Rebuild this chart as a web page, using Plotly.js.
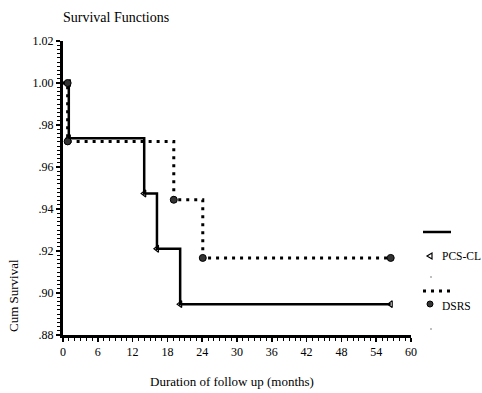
<!DOCTYPE html>
<html>
<head>
<meta charset="utf-8">
<script src="https://cdn.plot.ly/plotly-3.0.1.min.js"></script>
<style>html,body{margin:0;padding:0;background:#fff;} #chart{width:482px;height:393px;}</style>
</head>
<body>
<div id="chart"></div>
<script>
// Step-function data (Kaplan-Meier)
var pcsTime = [0, 1, 14, 16.2, 20.2, 56.5];
var pcsSurv = [1.0, 0.9737, 0.9474, 0.9211, 0.8947, 0.8947];
var pcsCensTime = [1, 1, 14, 16.2, 20.2, 56.5];
var pcsCensSurv = [1.0, 0.9737, 0.9474, 0.9211, 0.8947, 0.8947];

var dsrsTime = [0, 0.8, 19.1, 24.1, 56.5];
var dsrsSurv = [1.0, 0.9722, 0.9444, 0.9167, 0.9167];
var dsrsCensTime = [0.8, 0.8, 19.1, 24.1, 56.5];
var dsrsCensSurv = [1.0, 0.9722, 0.9444, 0.9167, 0.9167];

var xTicks = [0, 6, 12, 18, 24, 30, 36, 42, 48, 54, 60];
var yTicks = [0.88, 0.90, 0.92, 0.94, 0.96, 0.98, 1.00, 1.02];
var yTickText = ['.88', '.90', '.92', '.94', '.96', '.98', '1.00', '1.02'];
var seriesNames = ['PCS-CL', 'DSRS'];

var W = 482, H = 393, L = 63, R = 71, T = 41, B = 58;
function px(x) { return (x - L) / (W - L - R); }
function py(y) { return (H - B - y) / (H - T - B); }

var FONT = '"Liberation Serif", "DejaVu Serif", serif';

var traces = [
  {x: pcsTime, y: pcsSurv, mode: 'lines', line: {shape: 'hv', color: '#000', width: 2.5}, showlegend: false, hoverinfo: 'skip'},
  {x: dsrsTime, y: dsrsSurv, mode: 'lines', line: {shape: 'hv', color: '#000', width: 3, dash: '3px,5px'}, showlegend: false, hoverinfo: 'skip'},
  {x: pcsCensTime, y: pcsCensSurv, mode: 'markers', marker: {symbol: 'triangle-left-open', size: 6, color: '#000', line: {width: 1.2, color: '#000'}}, showlegend: false, cliponaxis: false},
  {x: dsrsCensTime, y: dsrsCensSurv, mode: 'markers', marker: {symbol: 'circle', size: 7, color: '#333', line: {width: 1, color: '#000'}}, showlegend: false, cliponaxis: false}
];

var shapes = [
  {type: 'line', xref: 'paper', yref: 'paper', x0: px(423), x1: px(451), y0: py(232), y1: py(232), line: {color: '#000', width: 2.5}},
  {type: 'path', xref: 'paper', yref: 'paper',
    path: 'M ' + px(427) + ' ' + py(256) + ' L ' + px(432) + ' ' + py(253) + ' L ' + px(432) + ' ' + py(259) + ' Z',
    line: {color: '#000', width: 1.2}, fillcolor: 'rgba(0,0,0,0)'},
  {type: 'line', xref: 'paper', yref: 'paper', x0: px(423), x1: px(451), y0: py(291), y1: py(291), line: {color: '#000', width: 3, dash: '3px,5px'}},
  {type: 'circle', xref: 'paper', yref: 'paper', x0: px(427), x1: px(433), y0: py(301), y1: py(307), fillcolor: '#333', line: {color: '#000', width: 1}},
  {type: 'rect', xref: 'paper', yref: 'paper', x0: px(430.5), x1: px(431.5), y0: py(276.5), y1: py(277.5), fillcolor: '#000', line: {width: 0}},
  {type: 'rect', xref: 'paper', yref: 'paper', x0: px(430.5), x1: px(431.5), y0: py(328.5), y1: py(329.5), fillcolor: '#000', line: {width: 0}}
];

var annotations = [
  {text: seriesNames[0], xref: 'paper', yref: 'paper', x: px(441), y: py(256), xanchor: 'left', yanchor: 'middle', borderpad: 0, showarrow: false, font: {family: FONT, size: 11.5, color: '#000'}},
  {text: seriesNames[1], xref: 'paper', yref: 'paper', x: px(441), y: py(306), xanchor: 'left', yanchor: 'middle', borderpad: 0, showarrow: false, font: {family: FONT, size: 11.5, color: '#000'}},
  {text: 'Cum Survival', xref: 'paper', yref: 'paper', x: px(13), y: py(296), xanchor: 'center', yanchor: 'middle', textangle: -90, showarrow: false, font: {family: FONT, size: 13, color: '#000'}},
  {text: 'Duration of follow up (months)', xref: 'paper', yref: 'paper', x: px(232), y: py(381), xanchor: 'center', yanchor: 'middle', showarrow: false, font: {family: FONT, size: 13, color: '#000'}}
];

var layout = {
  width: W, height: H,
  margin: {l: L, r: R, t: T, b: B, pad: 0},
  paper_bgcolor: '#fff', plot_bgcolor: '#fff',
  font: {family: FONT, size: 12, color: '#000'},
  title: {text: 'Survival Functions', x: 0, xref: 'paper', xanchor: 'left', y: 1 - 17 / H, yref: 'container', yanchor: 'middle', font: {family: FONT, size: 14, color: '#000'}},
  xaxis: {range: [0, 60], tickvals: xTicks, ticktext: xTicks.map(String), ticks: 'outside', ticklen: 4, tickwidth: 1.5, tickcolor: '#000',
    minor: {dtick: 1, tick0: 0, ticks: 'outside', ticklen: 3, tickwidth: 1, tickcolor: '#000'},
    showline: true, linewidth: 3, linecolor: '#000', showgrid: false, zeroline: false, fixedrange: true,
    tickfont: {family: FONT, size: 12, color: '#000'}},
  yaxis: {range: [0.88, 1.02], tickvals: yTicks, ticktext: yTickText, ticks: 'outside', ticklen: 4, tickwidth: 1.5, tickcolor: '#000',
    minor: {dtick: 0.002, tick0: 0.88, ticks: 'outside', ticklen: 3, tickwidth: 1, tickcolor: '#000'},
    showline: true, linewidth: 3, linecolor: '#000', showgrid: false, zeroline: false, fixedrange: true,
    tickfont: {family: FONT, size: 12, color: '#000'}},
  shapes: shapes,
  annotations: annotations,
  showlegend: false
};

Plotly.newPlot('chart', traces, layout, {displayModeBar: false, staticPlot: true});
</script>
</body>
</html>
